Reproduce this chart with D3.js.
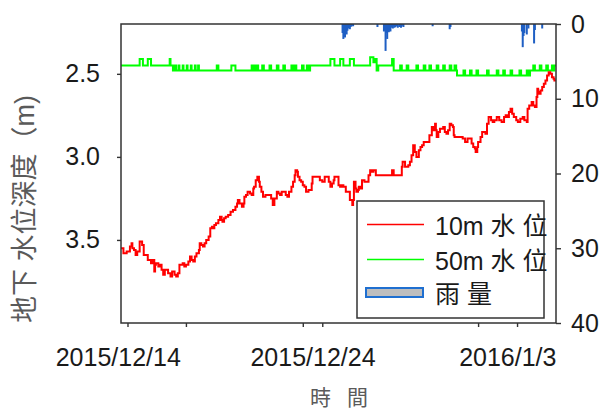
<!DOCTYPE html>
<html>
<head>
<meta charset="utf-8">
<script src="https://cdn.jsdelivr.net/npm/d3@7"></script>
<style>
  body { margin: 0; background: #fff; }
  svg { display: block; }
  text { font-family: "Liberation Sans", Arial, "Noto Sans CJK TC", sans-serif; }
</style>
</head>
<body>
<svg id="chart" width="602" height="412"></svg>
<script>
// Hourly record, hours counted from 2015-12-14 04:00
const recordStart = new Date(2015, 11, 14, 4);
const recordEnd = new Date(2016, 0, 5, 12);

// 10 m well: [hour, depth below ground (m)]
const well10m = [
  [0,3.55],[3,3.58],[5,3.58],[7,3.57],[9,3.57],[11,3.54],[13,3.52],[14,3.55],[16,3.56],[18,3.59],
  [20,3.57],[23,3.51],[26,3.53],[28,3.59],[30,3.59],[33,3.62],[37,3.64],[39,3.62],[41,3.69],[42,3.65],
  [43,3.64],[46,3.66],[48,3.65],[50,3.68],[52,3.71],[54,3.68],[55,3.68],[58,3.70],[61,3.72],[63,3.69],
  [64,3.69],[66,3.71],[68,3.72],[70,3.70],[72,3.65],[76,3.64],[78,3.66],[80,3.65],[83,3.63],[85,3.60],
  [87,3.62],[89,3.63],[91,3.60],[93,3.58],[96,3.56],[97,3.52],[99,3.53],[101,3.54],[103,3.52],[105,3.50],
  [108,3.48],[110,3.43],[112,3.42],[113,3.43],[115,3.41],[117,3.40],[120,3.38],[122,3.36],[124,3.38],[125,3.39],
  [127,3.37],[129,3.36],[132,3.35],[135,3.33],[138,3.32],[141,3.30],[143,3.28],[144,3.26],[146,3.28],[149,3.30],
  [151,3.28],[152,3.24],[154,3.23],[156,3.21],[159,3.22],[161,3.23],[163,3.19],[164,3.18],[166,3.14],[168,3.12],
  [170,3.15],[171,3.18],[173,3.21],[175,3.24],[178,3.23],[180,3.23],[182,3.23],[185,3.25],[187,3.29],[189,3.25],
  [192,3.21],[194,3.22],[196,3.23],[198,3.21],[200,3.21],[203,3.23],[205,3.24],[207,3.21],[208,3.21],[210,3.18],
  [212,3.15],[214,3.11],[215,3.08],[217,3.09],[218,3.12],[220,3.14],[222,3.15],[224,3.17],[226,3.18],[228,3.21],
  [229,3.21],[231,3.20],[233,3.20],[235,3.16],[236,3.12],[239,3.12],[242,3.12],[245,3.14],[248,3.15],[251,3.12],
  [254,3.12],[256,3.15],[258,3.18],[260,3.16],[262,3.14],[263,3.12],[266,3.12],[268,3.17],[270,3.18],[272,3.17],
  [274,3.18],[277,3.21],[279,3.21],[282,3.26],[285,3.29],[286,3.26],[287,3.15],[289,3.19],[290,3.21],[292,3.20],
  [293,3.18],[295,3.19],[297,3.14],[300,3.15],[303,3.15],[305,3.11],[307,3.08],[309,3.09],[311,3.08],[314,3.11],
  [316,3.11],[320,3.11],[325,3.11],[331,3.11],[334,3.08],[336,3.11],[338,3.11],[341,3.11],[344,3.11],[346,3.06],
  [347,3.03],[350,3.06],[352,3.06],[354,3.05],[356,3.03],[358,2.99],[360,2.93],[362,2.97],[364,3.00],[367,2.96],
  [369,2.94],[371,2.93],[373,2.91],[375,2.91],[378,2.91],[380,2.87],[383,2.82],[385,2.84],[387,2.80],[388,2.84],
  [389,2.88],[391,2.85],[393,2.83],[395,2.83],[397,2.82],[399,2.85],[401,2.86],[403,2.84],[405,2.80],[407,2.81],
  [409,2.82],[410,2.87],[411,2.88],[414,2.88],[418,2.88],[421,2.89],[424,2.91],[427,2.89],[429,2.89],[430,2.89],
  [432,2.92],[434,2.94],[436,2.95],[437,2.97],[439,2.94],[440,2.91],[443,2.88],[445,2.85],[447,2.85],[449,2.86],
  [451,2.80],[453,2.76],[456,2.78],[458,2.79],[460,2.78],[463,2.76],[466,2.78],[469,2.79],[472,2.76],[474,2.75],
  [476,2.76],[478,2.73],[480,2.71],[482,2.74],[484,2.76],[485,2.76],[487,2.78],[489,2.79],[492,2.77],[495,2.76],
  [497,2.78],[500,2.79],[501,2.71],[503,2.69],[506,2.67],[508,2.69],[510,2.70],[512,2.64],[513,2.59],[514,2.61],
  [515,2.62],[517,2.60],[519,2.58],[521,2.56],[523,2.54],[525,2.51],[527,2.49],[529,2.50],[531,2.52],[533,2.53],
  [534,2.54],[536,2.54]
];

// 50 m well: [hour, depth below ground (m)]
const well50m = [
  [0,2.45],[23,2.41],[27,2.45],[33,2.41],[37,2.45],[60,2.41],[61,2.45],[64,2.48],[66,2.45],[68,2.48],
  [71,2.45],[72,2.48],[76,2.45],[77,2.48],[81,2.45],[82,2.48],[86,2.45],[87,2.48],[91,2.45],[92,2.48],
  [95,2.45],[96,2.48],[118,2.45],[120,2.48],[136,2.45],[141,2.48],[161,2.45],[163,2.48],[165,2.45],[166,2.48],
  [168,2.45],[169,2.48],[174,2.45],[176,2.48],[183,2.45],[185,2.48],[192,2.45],[194,2.48],[200,2.45],[202,2.48],
  [210,2.45],[212,2.48],[214,2.45],[216,2.48],[223,2.45],[225,2.48],[229,2.45],[231,2.48],[233,2.45],[258,2.41],
  [263,2.45],[270,2.41],[274,2.45],[282,2.41],[287,2.45],[307,2.40],[311,2.43],[313,2.41],[315,2.48],[317,2.45],
  [334,2.41],[336,2.48],[344,2.45],[346,2.48],[352,2.45],[354,2.48],[364,2.45],[366,2.48],[373,2.45],[375,2.48],
  [380,2.45],[382,2.48],[389,2.45],[391,2.48],[397,2.45],[399,2.48],[405,2.45],[407,2.48],[411,2.45],[413,2.48],
  [414,2.51],[422,2.48],[424,2.51],[430,2.48],[432,2.51],[438,2.48],[440,2.51],[451,2.48],[453,2.51],[463,2.48],
  [465,2.51],[471,2.48],[473,2.51],[480,2.48],[482,2.51],[491,2.48],[493,2.51],[500,2.48],[502,2.51],[504,2.48],
  [508,2.45],[510,2.48],[516,2.45],[518,2.48],[524,2.45],[526,2.48],[531,2.45],[533,2.48],[534,2.45],[536,2.45]
];

// Hourly rainfall: [hour, mm]
const rainfall = [
  [273,1.2],[274,2.0],[275,1.6],[276,1.8],[277,1.0],[278,1.4],[279,0.9],[280,0.6],[281,0.5],[282,0.7],
  [283,0.4],[284,0.3],[286,0.3],[316,0.4],[324,1.0],[325,0.8],[326,3.6],[327,1.2],[328,2.0],[329,0.8],
  [330,1.1],[331,0.9],[332,1.0],[333,0.5],[334,0.4],[335,0.6],[336,0.3],[337,0.5],[338,0.4],[339,0.3],
  [341,0.5],[343,0.4],[345,0.5],[346,0.3],[348,0.4],[384,0.3],[405,0.7],[406,0.4],[494,1.0],[495,3.1],
  [496,1.6],[497,1.2],[500,1.4],[502,0.6],[509,2.6],[510,0.8],[519,0.6]
];

// Axis ticks and labels
const depthTicks = [2.5, 3.0, 3.5];
const rainTicks = [0, 10, 20, 30, 40];
const dateTickMarks = [
  new Date(2015, 11, 14, 12), new Date(2015, 11, 17, 12), new Date(2015, 11, 23, 12),
  new Date(2015, 11, 24, 12), new Date(2016, 0, 1, 12), new Date(2016, 0, 3, 12)
];
const dateLabelDates = [new Date(2015, 11, 14), new Date(2015, 11, 24), new Date(2016, 0, 3)];
const dateLabelText = ["2015/12/14", "2015/12/24", "2016/1/3"];

const legendItems = [
  { label: "10m 水 位", color: "#ff0000", kind: "line" },
  { label: "50m 水 位", color: "#00ff00", kind: "line" },
  { label: "雨 量", color: "#1f6fd0", kind: "box" }
];

const svg = d3.select("#chart");
const plot = { left: 121, right: 556, top: 24, bottom: 323 };

const at = h => new Date(recordStart.getTime() + h * 3600000);
const x = d3.scaleTime().domain([recordStart, recordEnd]).range([plot.left, plot.right]);
const y = d3.scaleLinear().domain([2.2, 4.0]).range([plot.top, plot.bottom]);
const yRain = d3.scaleLinear().domain([0, 40]).range([plot.top, plot.bottom]);

svg.append("rect").attr("width", 602).attr("height", 412).attr("fill", "#fff");

svg.append("clipPath").attr("id", "plotClip")
  .append("rect")
  .attr("x", plot.left).attr("y", plot.top)
  .attr("width", plot.right - plot.left).attr("height", plot.bottom - plot.top);

const g = svg.append("g").attr("clip-path", "url(#plotClip)");

// Rainfall hangs from the top edge
g.selectAll("rect.rain").data(rainfall).join("rect")
  .attr("class", "rain")
  .attr("x", d => x(at(d[0])) - 1)
  .attr("y", yRain(0))
  .attr("width", 2)
  .attr("height", d => yRain(d[1]) - yRain(0))
  .attr("fill", "#1f5fc4");

const stepLine = d3.line()
  .x(d => x(at(d[0])))
  .y(d => y(d[1]))
  .curve(d3.curveStepAfter);

g.append("path").datum(well50m)
  .attr("d", stepLine)
  .attr("fill", "none").attr("stroke", "#00ff00").attr("stroke-width", 2);

g.append("path").datum(well10m)
  .attr("d", stepLine)
  .attr("fill", "none").attr("stroke", "#ff0000").attr("stroke-width", 2);

// Legend
const lg = svg.append("g");
lg.append("rect")
  .attr("x", 357).attr("y", 201).attr("width", 187).attr("height", 117)
  .attr("fill", "#fff").attr("stroke", "#333").attr("stroke-width", 1.5);
const rowY = [224.5, 259.5, 292.5];
legendItems.forEach((it, i) => {
  if (it.kind === "line") {
    lg.append("line").attr("x1", 367).attr("x2", 424)
      .attr("y1", rowY[i]).attr("y2", rowY[i])
      .attr("stroke", it.color).attr("stroke-width", 1.5);
  } else {
    lg.append("rect").attr("x", 366).attr("y", rowY[i] - 4.5)
      .attr("width", 57).attr("height", 9)
      .attr("fill", "#bebebe").attr("stroke", it.color).attr("stroke-width", 2);
  }
  lg.append("text").attr("x", 435).attr("y", rowY[i] + 10)
    .attr("font-size", 25).attr("fill", "#1a1a1a")
    .text(it.label);
});

// Frame
svg.append("rect")
  .attr("x", plot.left).attr("y", plot.top)
  .attr("width", plot.right - plot.left).attr("height", plot.bottom - plot.top)
  .attr("fill", "none").attr("stroke", "#333").attr("stroke-width", 1.5);

function styleAxis(sel) {
  sel.select(".domain").remove();
  sel.selectAll(".tick line").attr("stroke", "#333").attr("stroke-width", 1.4);
  sel.selectAll("text").attr("font-size", 25).attr("fill", "#1a1a1a")
    .attr("font-family", "'Liberation Sans', Arial, sans-serif");
}

svg.append("g").attr("transform", `translate(${plot.left},0)`)
  .call(d3.axisLeft(y).tickValues(depthTicks).tickFormat(d3.format(".1f")).tickSize(4).tickPadding(17))
  .call(styleAxis);

svg.append("g").attr("transform", `translate(${plot.right},0)`)
  .call(d3.axisRight(yRain).tickValues(rainTicks).tickSize(5).tickPadding(10))
  .call(styleAxis);

svg.append("g").attr("transform", `translate(0,${plot.bottom})`)
  .call(d3.axisBottom(x).tickValues(dateTickMarks).tickFormat("").tickSize(4))
  .call(styleAxis);

svg.append("g").attr("transform", `translate(0,${plot.bottom})`)
  .call(d3.axisBottom(x).tickValues(dateLabelDates)
    .tickFormat((d, i) => dateLabelText[i]).tickSize(0).tickPadding(25))
  .call(styleAxis);

// Axis titles
svg.append("text")
  .attr("transform", "translate(34,209) rotate(-90)")
  .attr("text-anchor", "middle")
  .attr("font-size", 27).attr("fill", "#5a5a5a")
  .attr("font-family", "'Noto Sans CJK TC', sans-serif")
  .text("地下 水位深度（m)");

svg.append("text")
  .attr("x", 339).attr("y", 405)
  .attr("text-anchor", "middle")
  .attr("font-size", 21).attr("fill", "#5a5a5a")
  .attr("font-family", "'Noto Sans CJK TC', sans-serif")
  .style("word-spacing", "10px")
  .text("時 間");
</script>
</body>
</html>
